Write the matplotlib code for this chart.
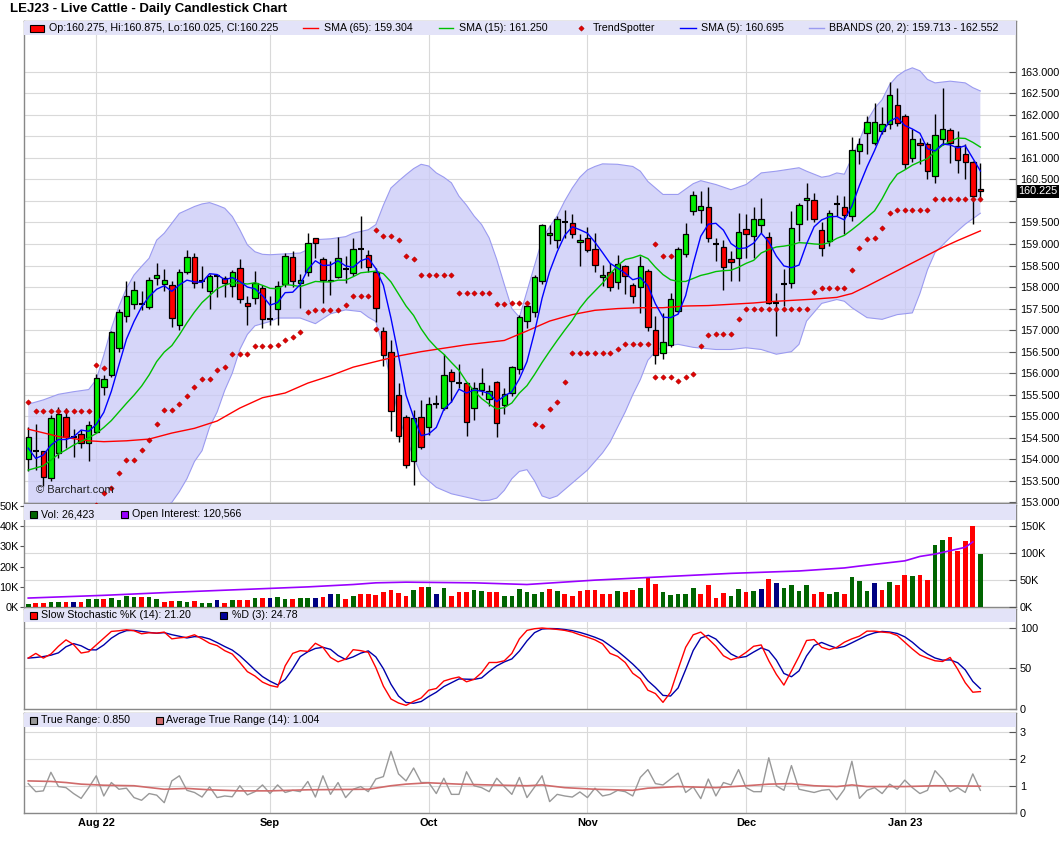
import numpy as np
import matplotlib
matplotlib.use("Agg")
import matplotlib.pyplot as plt
from matplotlib.patches import Rectangle
from matplotlib.lines import Line2D
from matplotlib.transforms import blended_transform_factory

plt.rcParams['font.family'] = ['Liberation Sans', 'DejaVu Sans']

# ---------------- data (one value per trading day) ----------------
month_pos = [9, 32, 53, 74, 95, 116]
month_labels = ['Aug 22', 'Sep', 'Oct', 'Nov', 'Dec', 'Jan 23']

opens = [154.01, 154.2, 154.2, 153.56, 154.14, 154.98, 154.51, 154.59, 154.38, 154.63,
         155.67, 155.96, 156.59, 157.33, 157.6, 157.6, 157.53, 158.2, 158.07, 158.05,
         157.12, 158.36, 158.69, 158.14, 157.9, 158.26, 158.2, 158.03, 158.44, 157.63,
         157.75, 157.97, 157.26, 157.5, 158.08, 158.7, 158.1, 158.35, 159.15, 158.66,
         158.13, 158.24, 158.42, 158.32, 158.88, 158.75, 158.36, 156.98, 156.5, 155.5,
         154.99, 153.97, 154.99, 154.75, 155.29, 155.2, 156.02, 155.78, 155.77, 155.2,
         155.61, 155.41, 155.79, 155.25, 155.53, 156.09, 157.22, 157.42, 158.15, 159.2,
         159.1, 159.5, 159.48, 159.04, 159.15, 158.89, 158.23, 158.35, 158.11, 158.5,
         158.04, 158.0, 158.37, 157.01, 156.48, 156.65, 157.45, 158.76, 159.76, 159.8,
         159.87, 159.0, 158.94, 158.66, 158.68, 159.34, 159.18, 159.45, 159.16, 157.62,
         158.08, 158.1, 159.46, 160.01, 160.01, 159.32, 159.08, 159.92, 159.86, 159.65,
         161.16, 161.58, 161.34, 161.62, 161.78, 162.23, 161.96, 161.0, 161.34, 161.31,
         160.58, 161.43, 161.64, 161.27, 161.08, 160.9, 160.275]
highs = [154.75, 154.82, 154.2, 155.03, 155.21, 155.2, 154.7, 154.68, 154.9, 155.97,
         155.96, 156.98, 157.48, 158.14, 158.15, 157.9, 158.24, 158.55, 158.42, 158.13,
         158.42, 158.86, 158.78, 158.5, 158.3, 158.3, 158.25, 158.4, 158.65, 157.8,
         158.37, 158.05, 157.8, 158.13, 158.79, 158.84, 158.3, 159.25, 159.15, 158.7,
         158.6, 159.17, 158.71, 159.15, 159.66, 158.86, 158.44, 157.08, 156.78, 155.77,
         155.03, 155.15, 155.37, 155.44, 155.5, 156.44, 156.1, 156.21, 155.8, 155.8,
         156.13, 155.73, 155.83, 155.65, 156.16, 157.35, 157.6, 158.28, 159.47, 159.44,
         159.65, 159.8, 159.7, 159.24, 159.39, 159.26, 158.52, 158.55, 158.74, 158.52,
         158.1, 158.72, 158.41, 157.32, 157.4, 157.86, 158.93, 159.49, 160.23, 160.23,
         160.32, 159.13, 159.1, 158.83, 159.72, 159.69, 159.87, 160.07, 159.28, 157.87,
         158.41, 159.76, 159.96, 160.42, 160.19, 159.5, 159.8, 160.14, 160.11, 161.48,
         161.47, 161.97, 162.28, 162.18, 162.77, 162.63, 162.02, 161.66, 161.47, 161.37,
         162.01, 162.63, 161.7, 161.62, 161.31, 160.93, 160.875]
lows = [153.73, 153.76, 153.37, 153.5, 154.02, 154.26, 154.05, 154.26, 153.95, 154.6,
        155.5, 155.9, 156.5, 157.2, 157.5, 157.47, 157.5, 158.05, 157.9, 157.07,
        157.0, 158.3, 157.97, 157.97, 157.5, 157.78, 157.78, 157.78, 157.62, 157.12,
        157.6, 157.06, 157.12, 157.11, 158.0, 157.99, 157.51, 158.25, 158.67, 157.63,
        157.82, 158.2, 158.09, 158.25, 158.44, 158.36, 157.19, 156.16, 154.65, 154.4,
        153.8, 153.41, 154.25, 154.57, 155.2, 155.15, 155.34, 155.65, 154.53, 154.92,
        155.5, 155.23, 154.51, 155.05, 155.47, 155.98, 157.05, 157.31, 158.06, 159.0,
        158.91, 159.14, 159.15, 158.48, 158.82, 158.35, 158.02, 157.9, 157.95, 157.83,
        157.63, 157.4, 156.98, 156.22, 156.32, 156.6, 157.4, 158.7, 159.68, 159.49,
        159.05, 158.6, 157.94, 158.14, 158.14, 158.68, 158.68, 159.26, 157.6, 156.86,
        157.56, 157.98, 159.07, 159.56, 159.5, 158.72, 158.95, 159.65, 159.22, 159.53,
        160.85, 161.08, 161.3, 161.55, 161.66, 161.74, 160.73, 160.9, 160.85, 160.5,
        160.42, 161.3, 160.89, 160.65, 160.5, 159.46, 160.025]
closes = [154.52, 154.2, 153.58, 154.95, 155.05, 154.51, 154.51, 154.38, 154.8, 155.88,
          155.87, 156.96, 157.43, 157.79, 157.93, 157.6, 158.17, 158.28, 158.17, 157.28,
          158.36, 158.69, 158.09, 158.14, 158.26, 158.26, 158.1, 158.34, 157.72, 157.57,
          158.09, 157.26, 157.26, 158.03, 158.73, 158.13, 158.16, 159.02, 159.02, 158.17,
          158.17, 158.67, 158.42, 158.89, 158.88, 158.47, 157.51, 156.43, 155.13, 154.53,
          153.87, 154.96, 154.28, 155.29, 155.29, 155.96, 155.81, 155.78, 154.86, 155.65,
          155.78, 155.58, 154.84, 155.51, 156.14, 157.3, 157.57, 158.24, 159.44, 159.26,
          159.57, 159.5, 159.22, 159.09, 158.87, 158.51, 158.29, 158.0, 158.54, 158.25,
          157.79, 158.5, 157.07, 156.43, 156.73, 157.73, 158.89, 159.24, 160.13, 159.89,
          159.13, 159.0, 158.46, 158.58, 159.27, 159.24, 159.57, 159.57, 157.62, 157.62,
          158.08, 159.36, 159.9, 160.07, 159.57, 158.91, 159.71, 159.92, 159.67, 161.18,
          161.33, 161.83, 161.83, 161.78, 162.46, 161.8, 160.86, 161.43, 161.29, 160.69,
          161.53, 161.66, 161.35, 160.94, 160.9, 160.11, 160.225]

sma5 = [154.26, 154.02, 154.1, 154.33, 154.46, 154.46, 154.52, 154.68, 154.65, 154.81,
        155.09, 155.58, 156.19, 156.79, 157.2, 157.54, 157.78, 157.95, 158.03, 157.9,
        158.05, 158.16, 158.12, 158.11, 158.31, 158.29, 158.17, 158.22, 158.13, 158.0,
        157.96, 157.8, 157.58, 157.64, 157.87, 157.88, 158.06, 158.41, 158.61, 158.5,
        158.51, 158.61, 158.49, 158.46, 158.61, 158.67, 158.43, 158.04, 157.28, 156.41,
        155.49, 154.98, 154.55, 154.59, 154.74, 155.16, 155.33, 155.63, 155.54, 155.61,
        155.58, 155.53, 155.34, 155.47, 155.57, 155.87, 156.27, 156.95, 157.74, 158.36,
        158.82, 159.2, 159.4, 159.33, 159.25, 159.04, 158.8, 158.55, 158.44, 158.32,
        158.17, 158.22, 158.03, 157.61, 157.3, 157.29, 157.37, 157.8, 158.54, 159.18,
        159.46, 159.48, 159.32, 159.01, 158.89, 158.91, 159.02, 159.25, 159.05, 158.72,
        158.49, 158.45, 158.51, 159.0, 159.4, 159.56, 159.63, 159.64, 159.56, 159.88,
        160.36, 160.79, 161.17, 161.59, 161.85, 161.94, 161.75, 161.67, 161.57, 161.21,
        161.16, 161.32, 161.3, 161.23, 161.28, 160.99, 160.695]
sma15 = [153.75, 153.8, 153.85, 153.98, 154.12, 154.22, 154.33, 154.42, 154.5, 154.6,
         154.74, 154.9, 155.1, 155.3, 155.49, 155.7, 155.96, 156.27, 156.49, 156.64,
         156.89, 157.17, 157.42, 157.64, 157.8, 157.96, 158.04, 158.1, 158.09, 158.07,
         158.1, 158.04, 157.97, 157.96, 158.06, 158.04, 158.01, 158.07, 158.13, 158.12,
         158.12, 158.16, 158.16, 158.24, 158.33, 158.35, 158.37, 158.31, 158.12, 157.84,
         157.56, 157.34, 157.03, 156.78, 156.59, 156.44, 156.25, 156.07, 155.8, 155.59,
         155.41, 155.28, 155.17, 155.2, 155.31, 155.54, 155.71, 155.97, 156.25, 156.51,
         156.76, 157.0, 157.23, 157.51, 157.73, 157.91, 158.09, 158.3, 158.5, 158.64,
         158.68, 158.74, 158.66, 158.46, 158.29, 158.17, 158.13, 158.13, 158.2, 158.27,
         158.31, 158.36, 158.38, 158.39, 158.46, 158.55, 158.62, 158.79, 158.87, 158.93,
         158.95, 158.98, 159.03, 159.02, 159.0, 158.99, 159.03, 159.13, 159.2, 159.33,
         159.47, 159.62, 159.77, 160.05, 160.38, 160.62, 160.72, 160.83, 160.91, 160.98,
         161.15, 161.29, 161.38, 161.46, 161.45, 161.36, 161.25]

sma65_idx = [0, 4, 8, 10, 13, 16, 19, 22, 25, 28, 31, 34, 37, 40, 43, 46, 49, 52, 55, 58, 61, 63,
             66, 69, 72, 75, 78, 81, 84, 87, 90, 93, 96, 98, 101, 104, 107, 109, 111, 113, 115,
             117, 119, 121, 123, 126]
sma65_val = [154.7, 154.53, 154.43, 154.41, 154.43, 154.47, 154.61, 154.72, 154.89, 155.19,
             155.43, 155.54, 155.77, 155.94, 156.14, 156.27, 156.4, 156.5, 156.58, 156.66,
             156.72, 156.76, 156.98, 157.21, 157.36, 157.46, 157.5, 157.52, 157.52, 157.56,
             157.57, 157.6, 157.63, 157.66, 157.69, 157.72, 157.76, 157.85, 158.02, 158.2,
             158.38, 158.56, 158.74, 158.92, 159.08, 159.304]

bbu_idx = [0, 2, 4, 6, 8] + list(range(9, 33)) + [34, 36, 37, 38, 40, 42, 43, 44, 45] + \
          list(range(46, 77)) + [78, 80, 81, 82, 83, 84, 86, 88, 89, 91, 93, 95, 97, 99, 102,
                                 103, 105, 106, 107, 108] + list(range(109, 121)) + [122, 124, 125, 126]
bbu_val = [155.28, 155.38, 155.51, 155.57, 155.62,
           155.85, 156.42, 157.04, 157.55, 157.97, 158.28, 158.48, 158.67, 159.09, 159.25, 159.48,
           159.71, 159.79, 159.87, 159.93, 159.96, 159.9, 159.83, 159.64, 159.33, 158.98, 158.82,
           158.76, 158.75,
           158.77, 158.79, 158.87, 159.1, 159.12, 159.17, 159.25, 159.29, 159.33,
           159.45, 159.9, 160.3, 160.46, 160.61, 160.75, 160.85, 160.81, 160.65, 160.55, 160.42,
           160.11, 159.9, 159.65, 159.45, 159.14, 158.64, 158.06, 157.5, 157.3, 157.9, 158.5,
           159.1, 159.4, 159.65, 160.0, 160.3, 160.55, 160.72, 160.8, 160.86,
           160.85, 160.8, 160.69, 160.45, 160.3, 160.15, 160.15, 160.4, 160.47, 160.38, 160.26,
           160.38, 160.65, 160.69, 160.77, 160.69, 160.55, 160.58, 160.65, 160.62,
           161.0, 161.4, 161.85, 162.15, 162.35, 162.7, 162.9, 163.02, 163.09, 163.02, 162.82,
           162.74,
           162.78, 162.74, 162.63, 162.552]
bbl_idx = [0, 5, 9, 10, 12, 15, 18] + list(range(19, 31)) + [32, 33, 36, 38, 40, 42, 44, 45] + \
          list(range(46, 53)) + [54, 56, 58, 60] + list(range(61, 85)) + \
          [86, 88, 91, 93, 95, 97, 99, 101, 102, 103, 105, 107, 108, 109, 111, 113, 115, 117,
           118, 119, 120, 122, 124, 126]
bbl_val = [152.4, 152.6, 152.95, 152.97, 152.9, 152.85, 152.9,
           153.0, 153.25, 153.55, 153.95, 154.2, 154.75, 155.1, 155.6, 156.0, 156.55, 156.9, 157.1,
           157.2, 157.28, 157.28, 157.15, 157.38, 157.47, 157.43, 157.3,
           157.2, 156.6, 155.8, 155.0, 154.5, 154.05, 153.65,
           153.35, 153.2, 153.12, 153.04,
           153.05, 153.1, 153.28, 153.55, 153.72, 153.76, 153.5, 153.15, 153.09, 153.15, 153.3,
           153.45, 153.6, 153.75, 153.95, 154.15, 154.4, 154.75, 155.1, 155.5, 155.85, 156.3,
           156.5, 156.62,
           156.67, 156.6, 156.55, 156.55, 156.59, 156.55, 156.44, 156.5, 156.67, 157.21, 157.62,
           157.71, 157.67, 157.52, 157.29, 157.25, 157.36, 157.4, 157.85, 158.4, 158.8, 159.15,
           159.46, 159.713]

ts_idx = list(range(0, 9)) + [9, 10] + list(range(9, 47)) + list(range(46, 67)) + \
         list(range(67, 83)) + list(range(83, 89)) + [83, 84, 85] + list(range(89, 127))
ts_val = [155.32] + [155.12] * 8 + [156.19, 156.13] + \
         [152.94, 153.21, 153.34, 153.68, 153.99, 153.99, 154.22, 154.45, 154.82, 155.15, 155.15,
          155.29, 155.46, 155.69, 155.87, 155.87, 156.08, 156.15, 156.45, 156.45, 156.45, 156.62,
          156.62, 156.62, 156.66, 156.78, 156.85, 156.95, 157.43, 157.47, 157.47, 157.47, 157.47,
          157.59, 157.8, 157.8, 157.8, 157.03] + \
         [159.33, 159.19, 159.19, 159.1, 158.73, 158.66] + [158.27] * 5 + [157.87] * 5 + \
         [157.61, 157.61, 157.62, 157.62, 157.62] + \
         [154.83, 154.78, 155.16, 155.33, 155.79, 156.46, 156.46] + [156.48] * 4 + [156.55] + [156.67] * 4 + \
         [155.9, 155.92, 155.92, 155.81, 155.9, 155.98] + [158.99, 158.71, 158.71] + \
         [156.63, 156.88, 156.92, 156.92, 156.92, 157.25, 157.48] + [157.5] * 8 + [157.88] + \
         [157.97] * 4 + [158.39, 158.9, 159.11, 159.13, 159.36, 159.71] + [159.79] * 5 + [160.04] * 7

volume_k = [1.5, 2, 2, 2.5, 2.5, 2.5, 2.5, 2.5, 4, 4,
            4, 4.5, 3.5, 5.5, 5, 5, 5, 4, 2.5, 3,
            3, 2.5, 3, 2, 2, 3.5, 2, 3.5, 3.5, 3.5,
            4.5, 4.5, 4.5, 5, 4, 4, 4.5, 4.5, 4.5, 5,
            6.5, 6.5, 4, 5.5, 6.5, 6.5, 6, 7.5, 8.5, 7,
            5.5, 8.5, 10, 10, 6.5, 9.5, 5.5, 7.5, 7.5, 8.5,
            8, 7.5, 7.5, 5.5, 5.5, 9, 7.5, 6.7, 7.5, 9.0,
            8.0, 6.7, 5.7, 8.0, 8.5, 8.5, 6.7, 6.7, 8.0, 7.5,
            8.5, 9.5, 14.2, 11.2, 7.5, 6.2, 6.7, 6.7, 9.5, 6.7,
            11.0, 4.5, 7.0, 5.7, 9.0, 7.5, 8.0, 9.0, 14.0, 12.0,
            9.5, 11.0, 8.0, 10.7, 6.7, 7.5, 6.7, 7.5, 6.7, 15.0,
            13.0, 8.0, 12.0, 8.5, 12.5, 10.7, 15.7, 15.2, 15.7, 13.2,
            30.7, 33.0, 34.5, 27.5, 32.5, 40.0, 26.423]
oi_idx = [0, 10, 19, 28, 37, 43, 46, 50, 59, 66, 75, 84, 93, 102, 108, 110, 116, 118, 120, 124, 125]
oi_k = [16.9, 21.9, 27.5, 32.5, 37.5, 41.9, 45.0, 46.25, 45.0, 41.9, 50.0, 56.25, 62.5, 66.9,
        72.5, 76.0, 85.6, 93.75, 98.1, 110.6, 120.566]

stoch_k = [62.5, 68.3, 62.5, 67.5, 77.1, 85, 79.2, 68.75, 70.4, 78.75,
           87.1, 95.4, 96.25, 97.5, 96.25, 92.5, 93.75, 93.3, 94.6, 86.25,
           87.5, 88.3, 91.25, 86.25, 80.8, 77.9, 71.7, 67.5, 57.1, 45.8,
           40.4, 32.9, 28.75, 26.7, 52.9, 68.3, 71.7, 70.8, 80.8, 75.8,
           63.3, 57.9, 61.25, 72.9, 71.7, 69.6, 50.8, 27.9, 12.1, 7.1,
           4.2, 9.2, 13.3, 22.9, 25, 34.2, 37.1, 39.2, 33.3, 36.25,
           44.6, 57.1, 57.1, 59.2, 68.3, 86.25, 96.7, 98.75, 99.6, 98.75,
           97.9, 96.7, 94.6, 91.25, 88.3, 85, 80, 68.3, 64.6, 57.1,
           43.75, 37.1, 22.9, 18.75, 7.9, 20.4, 48.75, 75.8, 91.25, 94.6,
           86.25, 77.1, 65.4, 60.4, 63.3, 69.6, 77.1, 78.75, 59.2, 42.5,
           29.2, 46.7, 64.6, 84.2, 85.4, 75.8, 72.9, 75.8, 82.1, 86.25,
           89.6, 95.8, 95.8, 94.6, 93.75, 90.4, 82.1, 73.75, 66.25, 62.5,
           59.2, 58.3, 63.3, 48.75, 32.1, 20.4, 21.2]
stoch_d = [62.5, 63.3, 64.4, 66.1, 69.0, 76.5, 80.4, 77.7, 72.8, 72.6,
           78.75, 87.1, 92.9, 96.4, 96.7, 95.4, 94.2, 93.2, 93.9, 91.4,
           89.45, 87.35, 89.0, 88.6, 86.1, 81.65, 76.8, 72.4, 65.4, 56.8,
           47.8, 39.7, 34.0, 29.45, 36.1, 49.3, 64.3, 70.3, 74.4, 75.8,
           73.3, 65.7, 60.8, 64.0, 68.6, 71.4, 64.0, 49.4, 30.3, 15.7,
           7.8, 6.8, 8.9, 15.1, 20.4, 27.4, 32.1, 36.8, 36.5, 36.25,
           38.05, 46.0, 52.9, 57.8, 61.5, 71.25, 83.75, 93.9, 98.35, 99.0,
           98.75, 97.8, 96.4, 94.2, 91.4, 88.2, 84.4, 77.8, 71.0, 63.3,
           55.15, 46.0, 34.6, 26.25, 16.5, 15.7, 25.7, 48.3, 71.9, 87.2,
           90.7, 86.0, 76.25, 67.6, 63.0, 64.4, 70.0, 75.15, 71.7, 60.15,
           43.6, 39.5, 46.8, 65.2, 78.1, 81.8, 78.0, 74.8, 76.9, 81.4,
           86.0, 90.55, 93.7, 95.4, 94.7, 92.9, 88.75, 82.1, 74.0, 67.5,
           62.65, 60.0, 60.3, 56.8, 48.05, 33.75, 24.78]

true_range = [1.1, 0.8, 0.83, 1.52, 0.99, 0.95, 0.73, 0.55, 0.95, 1.39,
              0.64, 1.14, 0.89, 0.93, 0.58, 0.48, 0.73, 0.67, 0.39, 1.2,
              1.39, 0.85, 0.77, 0.6, 0.98, 0.58, 0.64, 0.61, 1.02, 0.68,
              0.8, 1.05, 0.73, 1.05, 0.77, 0.85, 0.8, 1.18, 0.6, 1.39,
              0.7, 1.14, 0.58, 0.89, 0.99, 0.8, 1.27, 1.36, 2.3, 1.46,
              1.2, 1.68, 1.14, 1.14, 0.73, 1.3, 0.7, 0.7, 1.54, 1.02,
              0.95, 0.8, 1.3, 0.99, 0.7, 1.33, 0.58, 0.97, 1.39, 0.43,
              0.7, 0.64, 0.6, 0.79, 0.58, 0.93, 0.64, 0.7, 0.85, 0.8,
              0.64, 1.33, 1.62, 1.1, 1.05, 1.27, 1.49, 0.77, 0.98, 0.54,
              1.27, 0.64, 1.14, 1.05, 1.62, 0.95, 0.8, 0.8, 2.06, 1.02,
              0.85, 1.77, 0.89, 0.83, 0.77, 0.85, 0.88, 0.5, 0.89, 1.93,
              0.55, 0.85, 0.95, 0.73, 1.08, 0.89, 1.23, 0.95, 0.73, 0.85,
              1.58, 1.27, 0.8, 0.95, 0.77, 1.46, 0.85]
atr_idx = [0, 3, 5, 7, 10, 14, 18, 21, 24, 28, 32, 37, 41, 45, 48, 50, 53, 57, 61, 66, 68, 71,
           75, 80, 82, 86, 91, 95, 98, 101, 104, 107, 109, 111, 116, 120, 126]
atr_val = [1.2, 1.18, 1.14, 1.08, 1.04, 1.02, 0.89, 0.92, 0.87, 0.83, 0.83, 0.87, 0.88, 0.89,
           1.02, 1.08, 1.13, 1.08, 1.05, 1.02, 1.05, 0.95, 0.89, 0.85, 0.93, 0.99, 0.95, 1.02,
           1.08, 1.1, 1.02, 0.99, 1.05, 0.99, 0.99, 1.02, 1.004]

# ---------------- layout (pixel geometry of the original) ----------------
W, H = 1060, 851
fig = plt.figure(figsize=(W / 100, H / 100), dpi=100)
LEFT, RIGHT = 24.3, 1015.5


def fx(x):
    return x / W


def fy(y):
    return 1 - y / H


def panel(top, bottom):
    return fig.add_axes([fx(LEFT), fy(bottom), (RIGHT - LEFT) / W, (bottom - top) / H])


ax_p = panel(21, 503)
ax_v = panel(504.5, 607.3)
ax_s = panel(608.5, 708.8)
ax_t = panel(712.5, 813.3)
panels = [(ax_p, 21, 503, 14.2), (ax_v, 504.5, 607.3, 15.8),
          (ax_s, 608.5, 708.8, 13.4), (ax_t, 712.5, 813.3, 14.2)]

GRID = '#d9d9d9'
for ax, top, bottom, band in panels:
    ax.set_xlim(-0.52, 130.65)
    for s in ax.spines.values():
        s.set_color('#888888')
        s.set_linewidth(1.0)
    ax.set_axisbelow(True)
    for m in month_pos:
        ax.axvline(m, color=GRID, lw=0.8, zorder=0)
    frac = band / (bottom - top)
    ax.add_patch(Rectangle((0, 1 - frac), 1, frac, transform=ax.transAxes,
                           facecolor='#e3e3f8', edgecolor='none', zorder=10))
    ax.set_xticks(month_pos)
    ax.tick_params(axis='x', length=0, labelbottom=False)
    ax.yaxis.tick_right()
    ax.tick_params(axis='y', direction='in', length=5, color='#555555',
                   labelsize=7.8, pad=3)

idx = np.arange(len(closes))
o = np.array(opens)
c = np.array(closes)
hi = np.array(highs)
lo = np.array(lows)

# ---------------- price panel ----------------
ax_p.set_ylim(152.986, 164.177)
pticks = np.arange(153.0, 163.01, 0.5)
ax_p.set_yticks(pticks)
ax_p.set_yticklabels(['' if abs(t - 160.0) < 1e-6 else f'{t:.3f}' for t in pticks])
ax_p.grid(axis='y', color=GRID, lw=0.8)

band_x = list(bbu_idx) + list(bbl_idx)[::-1]
band_y = list(bbu_val) + list(bbl_val)[::-1]
ax_p.fill(band_x, band_y, facecolor='#c9c9f7', alpha=0.75, edgecolor='none', zorder=1)
ax_p.plot(bbu_idx, bbu_val, color='#9b9bf0', lw=0.8, zorder=2)
ax_p.plot(bbl_idx, bbl_val, color='#9b9bf0', lw=0.8, zorder=2)

up = c > o
dn = c < o
dj = c == o
ax_p.vlines(idx, lo, hi, color='black', lw=1.0, zorder=4)
ax_p.bar(idx[up], (c - o)[up], bottom=o[up], width=0.72, color='#00ee00',
         edgecolor='black', lw=0.9, zorder=5)
ax_p.bar(idx[dn], (o - c)[dn], bottom=c[dn], width=0.72, color='#ff0000',
         edgecolor='black', lw=0.9, zorder=5)
ax_p.hlines(c[dj], idx[dj] - 0.4, idx[dj] + 0.4, color='black', lw=1.5, zorder=5)

ax_p.plot(sma65_idx, sma65_val, color='#ff0000', lw=1.0, zorder=6)
ax_p.plot(idx, sma15, color='#00c000', lw=1.0, zorder=6)
ax_p.plot(idx, sma5, color='#0000ff', lw=1.0, zorder=6)
ax_p.plot(ts_idx, ts_val, ls='none', marker='D', ms=2.7, mfc='#e00000', mec='#b00000',
          mew=0.4, zorder=7)

ax_p.text(1.0025, c[-1], f'{c[-1]:.3f}', transform=blended_transform_factory(ax_p.transAxes, ax_p.transData),
          color='white', fontsize=7.8, va='center', ha='left', clip_on=False, zorder=12,
          bbox=dict(facecolor='black', edgecolor='none', pad=1.0))

# ---------------- volume panel ----------------
VLIM = (-50, 50640)
OLIM = (-200, 189700)
ax_v.set_ylim(*VLIM)
ax_v.yaxis.tick_left()
ax_v.set_yticks(np.arange(0, 50001, 10000))
ax_v.set_yticklabels([f'{int(v / 1000)}K' for v in np.arange(0, 50001, 10000)])
ax_v.tick_params(axis='y', direction='out', length=3, color='#555555', labelsize=7.8, pad=1)
for g in [50000, 100000, 150000]:
    vg = VLIM[0] + (g - OLIM[0]) / (OLIM[1] - OLIM[0]) * (VLIM[1] - VLIM[0])
    ax_v.axhline(vg, color=GRID, lw=0.8, zorder=0)

diff = np.round(np.diff(c), 4)
vcol = ['#006400'] + ['#006400' if d > 0 else ('#ff0000' if d < 0 else '#000080') for d in diff]
ax_v.bar(idx, np.array(volume_k) * 1000, width=0.62, color=vcol, zorder=3)

ax_o = ax_v.twinx()
ax_o.set_ylim(*OLIM)
ax_o.set_xlim(-0.52, 130.65)
ax_o.plot(oi_idx, np.array(oi_k) * 1000, color='#9900ff', lw=1.2, zorder=4)
ax_o.set_yticks([0, 50000, 100000, 150000])
ax_o.set_yticklabels(['0K', '50K', '100K', '150K'])
ax_o.tick_params(axis='y', direction='in', length=5, color='#555555', labelsize=7.8, pad=3)
for s in ax_o.spines.values():
    s.set_visible(False)

# ---------------- stochastic panel ----------------
ax_s.set_ylim(-0.05, 123.7)
ax_s.set_yticks([0, 50, 100])
ax_s.grid(axis='y', color=GRID, lw=0.8)
ax_s.plot(idx, stoch_d, color='#0000aa', lw=1.0, zorder=3)
ax_s.plot(idx, stoch_k, color='#ff0000', lw=1.0, zorder=4)

# ---------------- true range panel ----------------
ax_t.set_ylim(-0.004, 3.743)
ax_t.set_yticks([0, 1, 2, 3])
ax_t.grid(axis='y', color=GRID, lw=0.8)
ax_t.plot(idx, true_range, color='#999999', lw=1.0, zorder=3)
ax_t.plot(atr_idx, atr_val, color='#d06a6a', lw=1.2, zorder=4)
ax_t.tick_params(axis='x', labelbottom=True, pad=3.5)
ax_t.set_xticklabels(month_labels, fontsize=7.9, fontweight='bold')

# ---------------- title and header legends ----------------
fig.text(fx(10), fy(8.7), 'LEJ23 - Live Cattle - Daily Candlestick Chart',
         fontsize=9.5, fontweight='bold', va='center', ha='left')
fig.text(fx(36.5), fy(490), '\u00a9 Barchart.com', fontsize=8, color='#222222',
         va='center', ha='left')


def leg_text(x, y, s):
    fig.text(fx(x), fy(y), s, fontsize=7.7, va='center', ha='left')


def leg_line(x0, x1, y, color):
    fig.add_artist(Line2D([fx(x0), fx(x1)], [fy(y), fy(y)], color=color, lw=1.0,
                          transform=fig.transFigure))


def leg_box(x0, y_mid, w, h, color):
    fig.add_artist(Rectangle((fx(x0), fy(y_mid + h / 2)), w / W, h / H, facecolor=color,
                             edgecolor='black', lw=0.8, transform=fig.transFigure))


y0 = 28.4
leg_box(29.5, y0, 14.5, 6.5, '#ff0000')
leg_text(49, y0, f'Op:{opens[-1]:.3f}, Hi:{highs[-1]:.3f}, Lo:{lows[-1]:.3f}, Cl:{closes[-1]:.3f}')
leg_line(302.6, 317.8, y0, '#ff0000')
leg_text(323.5, y0, f'SMA (65): {sma65_val[-1]:.3f}')
leg_line(438.5, 453, y0, '#00c000')
leg_text(458.8, y0, f'SMA (15): {sma15[-1]:.3f}')
fig.add_artist(Line2D([fx(580.7)], [fy(y0)], ls='none', marker='D', ms=2.7, mfc='#e00000',
                      mec='#b00000', mew=0.4, transform=fig.transFigure))
leg_text(592.5, y0, 'TrendSpotter')
leg_line(680.4, 695.6, y0, '#0000ff')
leg_text(700.7, y0, f'SMA (5): {sma5[-1]:.3f}')
leg_line(809, 824, y0, '#9b9bf0')
leg_text(829.2, y0, f'BBANDS (20, 2): {bbl_val[-1]:.3f} - {bbu_val[-1]:.3f}')

y1 = 514.2
leg_box(29.7, y1, 7, 7, '#006400')
leg_text(41.2, y1, f'Vol: {volume_k[-1] * 1000:,.0f}')
leg_box(120.7, y1, 7, 7, '#9900ff')
leg_text(131.8, y1, f'Open Interest: {oi_k[-1] * 1000:,.0f}')

y2 = 615.1
leg_box(29.7, y2, 7, 7, '#ff0000')
leg_text(41.2, y2, f'Slow Stochastic %K (14): {stoch_k[-1]:.2f}')
leg_box(220.4, y2, 7, 7, '#000099')
leg_text(232.3, y2, f'%D (3): {stoch_d[-1]:.2f}')

y3 = 720.0
leg_box(29.7, y3, 7, 7, '#999999')
leg_text(41.2, y3, f'True Range: {true_range[-1]:.3f}')
leg_box(155.5, y3, 7, 7, '#d06a6a')
leg_text(166.3, y3, f'Average True Range (14): {atr_val[-1]:.3f}')

fig.savefig('out.png', dpi=100)
